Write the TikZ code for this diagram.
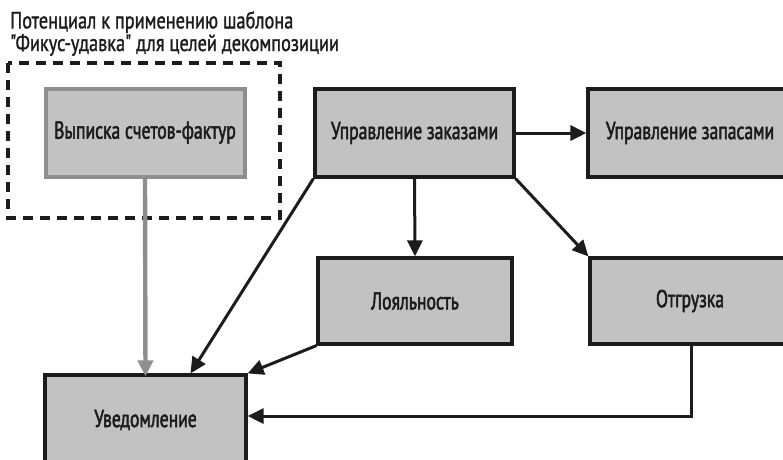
\documentclass[tikz,border=0pt]{standalone}
\usepackage{fontspec}
\setmainfont{PT Sans}[FakeStretch=0.72, FakeBold=2]
\newfontfamily\captionfont{PT Sans}[FakeStretch=0.78, FakeBold=1.2]
\usetikzlibrary{arrows.meta}
\definecolor{boxfill}{HTML}{C2C2C2}
\definecolor{softgray}{HTML}{8E8E8E}
\definecolor{ink}{HTML}{1C1C1C}
\tikzset{
  block/.style={draw=ink, line width=3.2pt, fill=boxfill, minimum width=199pt,
    minimum height=88pt, inner sep=0pt, text=ink, font=\fontsize{24.5}{26}\selectfont},
  legacy/.style={block, draw=softgray, line width=4pt},
  link/.style={draw=ink, line width=3pt, -{Triangle[length=16pt,width=15pt]}},
  softlink/.style={draw=softgray, line width=4.4pt, -{Triangle[length=16pt,width=15pt]}},
  scopebox/.style={draw=ink, line width=3.2pt, dash pattern=on 10pt off 7pt}
}
\begin{document}
\begin{tikzpicture}[x=1pt,y=-1pt]
\useasboundingbox (0,0) rectangle (783,459);
\clip (0,0) rectangle (783,459);

% caption over the dashed region (two lines, last baseline at y=51)
\node[anchor=base west, inner sep=0pt, text=ink, align=left,
  font=\captionfont\fontsize{23.5}{21}\selectfont] (cap) at (10,51)
  {Потенциал к применению шаблона\\
   \char"22 Фикус-удавка\char"22{} для целей декомпозиции};
\draw[scopebox] (8,63) rectangle (280,218);

% services
\node[legacy] (inv) at (145,132.5) {Выписка счетов-фактур};
\node[block] (ord) at (414.5,133) {Управление заказами};
\node[block, minimum width=204pt] (stock) at (690,133) {Управление запасами};
\node[block, minimum width=194pt, minimum height=86pt] (loy) at (415,301) {Лояльность};
\node[block, minimum width=200pt, minimum height=86pt] (ship) at (690,301) {Отгрузка};
\node[block, minimum width=201pt, minimum height=90pt] (ntf) at (145.5,420) {Уведомление};

% dependencies
\draw[link] (ord.east) -- (stock.west);
\draw[link] (ord.south) -- (loy.north);
\draw[link] (ord.south east) -- (ship.north west);
\draw[link] (ord.south west) -- ([xshift=45pt]ntf.north);
\draw[link] (loy.south west) -- (ntf.north east);
\coordinate (bend) at ([xshift=1pt]ship.south |- 0,416);
\draw[link] ([xshift=1pt]ship.south) -- (bend) -- (ntf.east |- bend);
\draw[softlink] (inv.south) -- ([yshift=-3pt]ntf.north);
\end{tikzpicture}
\end{document}
